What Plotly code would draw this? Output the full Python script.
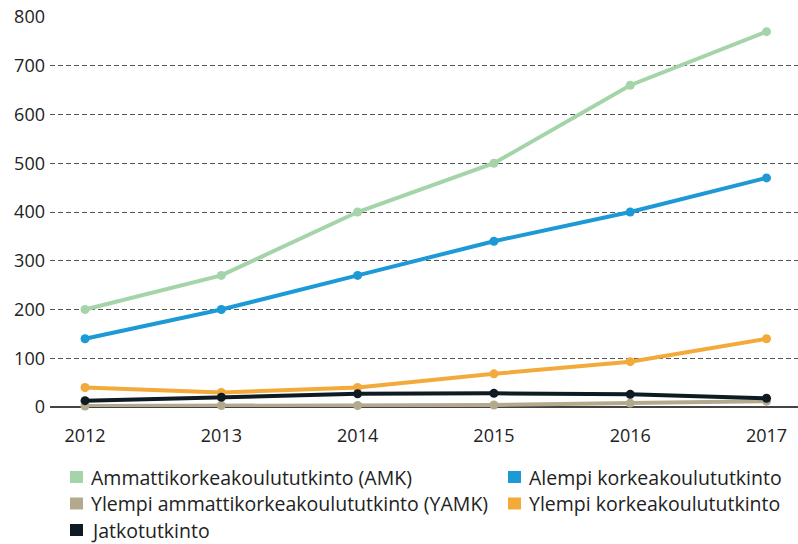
import plotly.graph_objects as go

years = [2012, 2013, 2014, 2015, 2016, 2017]

amk = [200, 270, 400, 500, 660, 770]
alempi = [140, 200, 270, 340, 400, 470]
yamk = [2, 3, 3, 4, 8, 12]
ylempi = [40, 30, 40, 68, 93, 140]
jatko = [13, 20, 27, 28, 26, 18]

series = [
    ("Ammattikorkeakoulututkinto (AMK)", amk, "#a5d4a8"),
    ("Alempi korkeakoulututkinto", alempi, "#1d9ad6"),
    ("Ylempi ammattikorkeakoulututkinto (YAMK)", yamk, "#b3aa8e"),
    ("Ylempi korkeakoulututkinto", ylempi, "#f2aa3a"),
    ("Jatkotutkinto", jatko, "#0f1b22"),
]
# draw order: tan below black
draw_order = [2, 3, 4, 1, 0]

W, H = 798, 544
L, T, B = 50, 17, 137
PW, PH = W - L, H - T - B

fig = go.Figure()
for i in draw_order:
    name, vals, col = series[i]
    fig.add_trace(go.Scatter(
        x=years, y=vals, mode="lines+markers", name=name, showlegend=False,
        line=dict(color=col, width=4), marker=dict(color=col, size=9),
        cliponaxis=False,
    ))

# hand-made legend, two columns, row-wise (pixel positions -> paper coords)
def px(x):
    return (x - L) / PW

def py(y):
    return (H - B - y) / PH

for k, (name, vals, col) in enumerate(series):
    sx = 70 + (k % 2) * 438
    cy = 477 + (k // 2) * 26.5
    fig.add_shape(type="rect", xref="paper", yref="paper",
                  x0=px(sx), x1=px(sx + 13), y0=py(cy + 6), y1=py(cy - 6),
                  fillcolor=col, line_width=0)
    fig.add_annotation(text=name, xref="paper", yref="paper",
                       x=px(sx + 20), y=py(cy), xanchor="left", yanchor="middle",
                       showarrow=False, borderpad=0,
                       font=dict(family="Open Sans, sans-serif", size=19.5, color="#222"))

fig.update_layout(
    width=W, height=H,
    margin=dict(l=L, r=0, t=T, b=B),
    plot_bgcolor="white", paper_bgcolor="white",
    font=dict(family="Open Sans, sans-serif", size=18, color="#222"),
    showlegend=False,
    xaxis=dict(range=[2011.743, 2017.231], tickvals=years, showgrid=False,
               zeroline=False, showline=False, ticks="", ticklabelstandoff=16,
               automargin=False),
    yaxis=dict(range=[0, 800], dtick=100, showgrid=True, gridcolor="#555",
               griddash="5px,3px", gridwidth=1, zeroline=True, zerolinecolor="#444",
               zerolinewidth=1.5, showline=False, ticks="", ticklabelstandoff=4,
               automargin=False),
)

fig.write_html("out.html", config={"displayModeBar": False},
               post_script="document.body.style.margin='0px';")
